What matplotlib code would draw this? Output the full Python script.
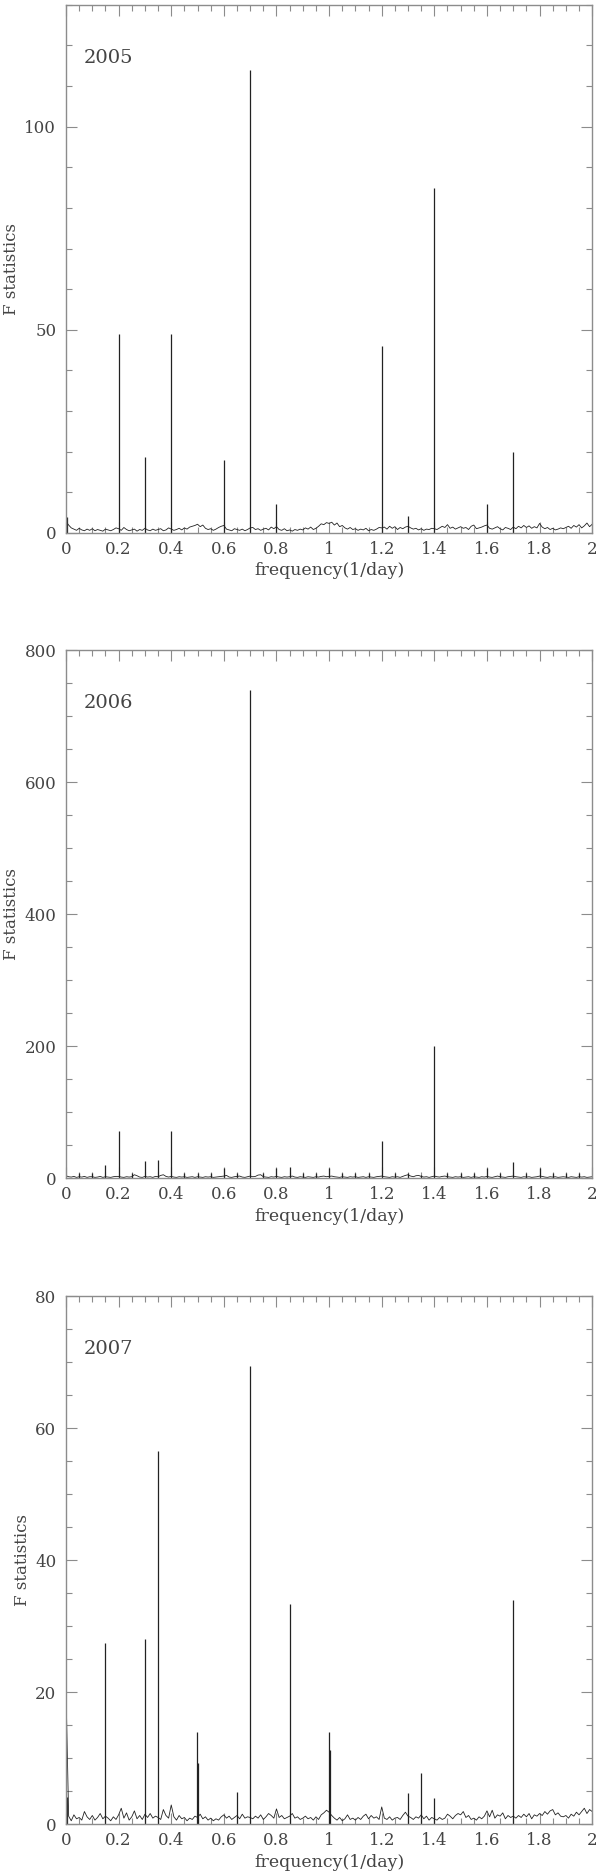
import numpy as np
import matplotlib.pyplot as plt
from matplotlib.ticker import MultipleLocator, FuncFormatter

plt.rcParams['font.family'] = 'DejaVu Serif'

# 1 frequency grid (1/day) and the years
freq = np.round(np.arange(0, 2.001, 0.01), 2)
years = ['2005', '2006', '2007']

# 2 noise floor of each periodogram (step 0.01)
noise_2005 = [
    2.8, 1.9, 1.2, 0.9, 0.6, 1.1, 0.7, 0.5, 0.9, 0.6,
    1.0, 0.5, 0.8, 0.6, 0.4, 0.9, 0.7, 0.5, 0.8, 1.2,
    1.0, 0.6, 1.3, 0.8, 0.5, 0.7, 0.9, 0.4, 0.8, 0.6,
    1.1, 0.7, 0.5, 0.9, 0.6, 0.8, 1.0, 0.5, 0.7, 1.2,
    0.9, 0.6, 0.8, 1.1, 0.7, 1.2, 0.9, 1.4, 1.6, 1.8,
    2.1, 1.5, 1.9, 1.1, 0.8, 1.0, 0.6, 0.9, 1.3, 1.6,
    1.8, 0.9, 0.7, 0.5, 1.0, 0.8, 0.6, 0.9, 0.5, 0.8,
    1.2, 1.3, 0.8, 1.0, 0.6, 0.9, 1.1, 0.7, 1.4, 1.0,
    1.5, 0.8, 0.6, 1.0, 0.5, 0.7, 0.4, 0.8, 0.6, 0.9,
    0.7, 1.2, 0.9, 1.4, 0.8, 1.1, 1.6, 2.2, 2.0, 2.5,
    2.3, 2.6, 1.9, 2.4, 1.5, 1.8, 1.2, 0.9, 1.3, 0.8,
    1.0, 0.6, 0.9, 0.7, 1.1, 0.5, 0.8, 0.6, 0.9, 1.3,
    1.2, 1.4, 0.9, 1.6, 1.1, 1.5, 0.8, 1.3, 1.0, 1.4,
    1.6, 1.2, 0.9, 1.1, 0.7, 1.0, 0.6, 0.9, 0.8, 1.1,
    1.0, 0.8, 1.2, 1.6, 1.3, 2.0, 1.1, 1.4, 0.9, 1.2,
    1.5, 1.1, 1.3, 0.8, 1.6, 1.9, 1.0, 1.2, 1.4, 1.7,
    1.9, 1.1, 0.9, 1.2, 1.5, 1.0, 0.7, 1.3, 1.1, 0.8,
    1.4, 1.0, 1.6, 1.2, 1.8, 1.3, 1.7, 1.1, 1.5, 1.2,
    2.3, 1.4, 1.0, 1.3, 0.8, 1.1, 0.7, 0.9, 1.2, 1.0,
    1.3, 1.6, 1.1, 1.8, 1.4, 2.0, 1.2, 1.7, 2.4, 1.5,
    2.1]

noise_2006 = [
    3.5, 2.0, 1.5, 2.5, 1.0, 2.0, 1.5, 2.5, 1.0, 2.0,
    2.0, 1.0, 1.5, 2.5, 1.0, 2.0, 1.5, 1.0, 2.0, 2.5,
    2.5, 1.5, 1.0, 2.0, 1.5, 2.0, 5.0, 3.5, 1.5, 1.0,
    2.5, 1.5, 2.0, 1.0, 2.5, 2.0, 4.0, 5.0, 2.5, 1.5,
    2.5, 1.5, 1.0, 2.0, 1.5, 2.0, 1.0, 1.5, 2.0, 1.0,
    2.0, 1.5, 1.0, 2.0, 1.5, 2.0, 1.0, 1.5, 2.0, 2.5,
    3.0, 4.0, 1.5, 1.0, 2.0, 2.5, 3.0, 1.5, 1.0, 2.0,
    3.0, 2.0, 2.5, 4.5, 5.0, 2.0, 1.5, 1.0, 2.0, 1.5,
    2.5, 1.5, 1.0, 2.0, 1.5, 2.0, 3.0, 1.5, 1.0, 2.0,
    1.5, 1.0, 2.0, 1.5, 1.0, 2.0, 1.5, 2.5, 3.0, 2.0,
    2.5, 3.0, 2.0, 1.5, 1.0, 2.0, 1.5, 1.0, 2.0, 1.5,
    2.0, 1.0, 1.5, 2.0, 1.0, 2.0, 1.5, 1.0, 2.0, 2.5,
    3.0, 2.0, 1.5, 1.0, 2.0, 1.5, 2.0, 1.0, 2.5, 4.0,
    5.0, 3.0, 2.0, 3.5, 4.0, 2.5, 1.5, 2.0, 1.0, 2.0,
    3.0, 2.0, 1.5, 2.5, 3.0, 2.0, 1.5, 1.0, 2.0, 1.5,
    2.0, 1.0, 1.5, 2.0, 1.0, 2.0, 1.5, 1.0, 2.0, 1.5,
    2.5, 1.5, 1.0, 2.0, 3.0, 2.0, 1.5, 1.0, 2.0, 2.5,
    3.0, 2.0, 1.5, 1.0, 2.0, 1.5, 2.0, 1.0, 1.5, 2.0,
    3.0, 2.5, 1.5, 1.0, 2.0, 1.5, 2.0, 1.0, 1.5, 2.0,
    1.5, 1.0, 2.0, 1.5, 1.0, 2.0, 1.5, 2.0, 1.0, 1.5,
    2.0]

noise_2007 = [
    20.3, 1.2, 0.5, 1.4, 0.8, 1.0, 0.6, 1.9, 1.1, 0.7,
    1.3, 0.6, 1.0, 1.6, 0.8, 1.2, 0.9, 0.5, 1.1, 0.7,
    1.4, 2.4, 0.9, 1.7, 0.6, 1.1, 2.0, 0.8, 1.3, 0.7,
    1.5, 1.0, 1.6, 0.9, 1.2, 1.0, 0.7, 2.2, 1.3, 0.9,
    2.9, 1.1, 0.6, 1.3, 0.8, 1.0, 0.5, 0.9, 0.7, 1.2,
    1.0, 1.5, 0.8, 1.1, 0.6, 0.9, 0.5, 0.8, 0.6, 1.1,
    1.4, 0.9, 1.2, 0.7, 1.0, 1.3, 0.8, 1.5, 0.9, 1.1,
    1.0, 0.8, 1.2, 0.9, 1.4, 0.7, 1.1, 1.6, 1.3, 0.9,
    2.3, 1.0, 1.3, 0.8, 1.0, 1.2, 1.6, 0.9, 1.1, 0.7,
    0.9, 1.2, 0.8, 1.0, 0.6, 1.1, 0.7, 1.4, 1.7, 2.1,
    1.8, 1.3, 0.9, 0.6, 1.0, 0.5, 0.8, 1.4, 0.7, 0.9,
    0.6, 1.0, 0.7, 1.2, 1.5, 0.8, 1.3, 0.9, 1.1, 0.7,
    2.6, 0.9, 0.7, 1.1, 0.6, 0.9, 1.0, 0.7, 1.3, 1.8,
    1.2, 1.0, 0.7, 1.1, 0.9, 1.4, 0.8, 1.2, 0.6, 1.0,
    0.8, 0.6, 1.0, 0.7, 0.9, 1.5, 1.2, 0.8, 1.3, 1.6,
    1.4, 1.9, 1.0, 1.3, 0.7, 0.9, 0.6, 1.1, 0.8, 1.2,
    2.0, 1.1, 2.1, 0.9, 1.4, 1.2, 1.7, 0.8, 1.3, 1.0,
    1.2, 0.9, 1.3, 1.0, 1.5, 1.1, 1.6, 0.8, 1.4, 1.2,
    1.6, 1.3, 1.9, 1.5, 2.0, 2.2, 1.4, 1.7, 1.2, 1.1,
    1.3, 0.9, 1.5, 1.2, 1.8, 1.4, 1.9, 2.4, 1.6, 2.2,
    1.9]

# 3 peaks (frequency, F value)
peak_f_2005 = [0.005, 0.2, 0.3, 0.4, 0.6, 0.7, 0.8, 1.2, 1.3, 1.4, 1.6, 1.7]
peak_h_2005 = [3.9, 49, 18.7, 49, 17.9, 114, 7.0, 46, 4.1, 85, 7.0, 19.9]

peak_f_2006 = [0.05, 0.1, 0.15, 0.2, 0.25, 0.3, 0.35, 0.4, 0.45, 0.5,
               0.55, 0.6, 0.65, 0.7, 0.75, 0.8, 0.85, 0.9, 0.95, 1.0,
               1.05, 1.1, 1.15, 1.2, 1.25, 1.3, 1.35, 1.4, 1.45, 1.5,
               1.55, 1.6, 1.65, 1.7, 1.75, 1.8, 1.85, 1.9, 1.95]
peak_h_2006 = [7.6, 7.6, 20, 72, 7.6, 26, 28, 71, 7.6, 7.6,
               7.6, 15, 7.6, 740, 7, 15, 16, 7.6, 7.6, 15,
               8, 8, 8, 56, 8, 8, 5, 200, 8, 8,
               8, 15, 8, 25, 8, 15, 8, 8, 8]

peak_f_2007 = [0.005, 0.15, 0.3, 0.35, 0.499, 0.501, 0.65, 0.7, 0.85,
               0.998, 1.003, 1.3, 1.35, 1.4, 1.7]
peak_h_2007 = [4.1, 27.5, 28.1, 56.5, 13.9, 9.3, 4.8, 69.4, 33.4,
               14.0, 11.3, 4.7, 7.7, 3.9, 33.9]

# 4 axis settings per panel
ytop = [130, 800, 80]
ymajor = [50, 200, 20]
yminor = [10, 50, 5]
bottoms = [0.7154, 0.3707, 0.0256]

noises = [noise_2005, noise_2006, noise_2007]
peaks_f = [peak_f_2005, peak_f_2006, peak_f_2007]
peaks_h = [peak_h_2005, peak_h_2006, peak_h_2007]

text_col = '#444444'
axis_col = '#8c8c8c'
line_col = '#222222'

fig = plt.figure(figsize=(6, 18.72), dpi=100)

for i in range(3):
    ax = fig.add_axes([0.11, bottoms[i], 0.877, 0.282])

    # noise floor as a line, peaks as thin spikes
    ax.plot(freq, noises[i], color=line_col, lw=0.6)
    ax.vlines(peaks_f[i], 0, peaks_h[i], color=line_col, lw=0.9)

    ax.set_xlim(0, 2)
    ax.set_ylim(0, ytop[i])
    ax.xaxis.set_major_locator(MultipleLocator(0.2))
    ax.xaxis.set_minor_locator(MultipleLocator(0.05))
    ax.yaxis.set_major_locator(MultipleLocator(ymajor[i]))
    ax.yaxis.set_minor_locator(MultipleLocator(yminor[i]))
    ax.xaxis.set_major_formatter(FuncFormatter(lambda v, p: '%g' % round(v, 2)))
    ax.yaxis.set_major_formatter(FuncFormatter(lambda v, p: '%g' % v))

    ax.tick_params(which='both', direction='in', top=True, right=True,
                   color=axis_col, labelcolor=text_col, labelsize=12)
    ax.tick_params(which='major', length=8, width=0.8)
    ax.tick_params(which='minor', length=4, width=0.8)
    ax.tick_params(axis='x', pad=6)
    ax.tick_params(axis='y', pad=7)
    for s in ax.spines.values():
        s.set_color(axis_col)
        s.set_linewidth(1.0)

    ax.set_xlabel('frequency(1/day)', fontsize=12.5, color=text_col, labelpad=3)
    ax.set_ylabel('F statistics', fontsize=12, color=text_col, labelpad=3)
    ax.text(0.034, 0.90, years[i], transform=ax.transAxes, fontsize=14,
            color=text_col, va='center', ha='left')

fig.savefig('out.png', dpi=100)
